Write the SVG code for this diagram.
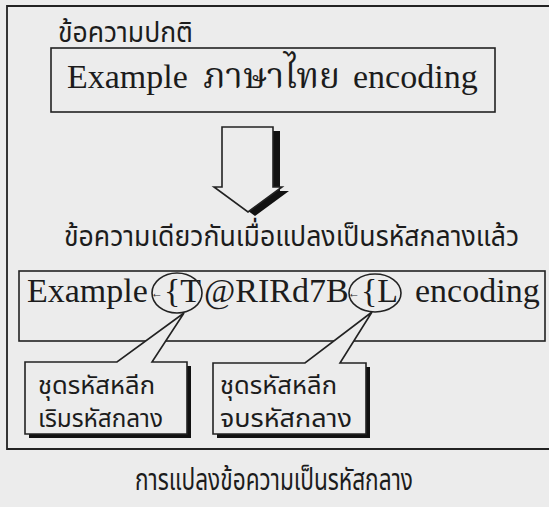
<svg xmlns="http://www.w3.org/2000/svg" width="549" height="507" viewBox="0 0 549 507">
<style>
.bg{fill:#ececec}
.frame{fill:none;stroke:#222;stroke-width:1.8}
.box{fill:none;stroke:#222;stroke-width:1.6}
.call{fill:#ececec;stroke:#222;stroke-width:1.6;stroke-linejoin:miter}
.shadow{fill:none;stroke:#111;stroke-width:4}
.th{font-family:"Noto Sans Thai","Noto Sans Thai Looped","Loma","Garuda","Noto Sans",sans-serif;fill:#1c1c1c}
.lat{font-family:"Liberation Serif","Noto Serif Thai","Noto Sans Thai",serif;font-size:34px;fill:#1c1c1c}
.sm{font-size:12px}
</style>
<rect class="bg" width="549" height="507"/>
<g id="frame"><path class="frame" d="M560,6 H7 V449 H560"/></g>
<g id="label-normal"><text class="th" x="58" y="42" font-size="28" textLength="135" lengthAdjust="spacingAndGlyphs">ข้อความปกติ</text></g>
<g id="box-original">
<rect class="box" x="51" y="48" width="444" height="64"/>
<text class="lat" x="67" y="88">Example <tspan x="203" font-size="35">ภาษาไทย</tspan><tspan x="344.5"> encoding</tspan></text>
</g>
<g id="connectors">
<g id="arrow">
<polygon points="229,131 280,131 280,191 289,191 255,216 221,191 229,191" fill="#111"/>
<polygon points="222,127 273,127 273,187 282,187 248,212 214,187 222,187" fill="#ececec" stroke="#222" stroke-width="1.6"/>
</g>
</g>
<g id="label-encoded"><text class="th" x="64" y="246" font-size="28" textLength="455" lengthAdjust="spacingAndGlyphs">ข้อความเดียวกันเมื่อแปลงเป็นรหัสกลางแล้ว</text></g>
<g id="box-encoded">
<rect class="box" x="19" y="271" width="526" height="70"/>
<text class="lat" x="27" y="302">Example<tspan class="sm" x="151" y="297">←</tspan><tspan x="164" y="302">{T</tspan><tspan x="204">@RIRd7B</tspan><tspan class="sm" x="348" y="297">←</tspan><tspan x="361" y="302">{L</tspan><tspan x="406.5"> encoding</tspan></text>
<ellipse class="box" cx="177" cy="293" rx="25" ry="20"/>
<ellipse class="box" cx="375" cy="293" rx="26" ry="19"/>
</g>
<g id="callout-start">
<path class="shadow" d="M189,366 V436 H29"/>
<path class="call" d="M25,362 H117 L184,313 L152,362 H187 V434 H25 Z"/>
<text class="th" x="38" y="394" font-size="24" textLength="117" lengthAdjust="spacingAndGlyphs">ชุดรหัสหลีก</text>
<text class="th" x="38" y="427" font-size="24" textLength="125" lengthAdjust="spacingAndGlyphs">เริมรหัสกลาง</text>
</g>
<g id="callout-end">
<path class="shadow" d="M368,367 V436 H217"/>
<path class="call" d="M213,363 H305 L372,312 L340,363 H366 V434 H213 Z"/>
<text class="th" x="220" y="394" font-size="24" textLength="117" lengthAdjust="spacingAndGlyphs">ชุดรหัสหลีก</text>
<text class="th" x="220" y="427" font-size="24" textLength="132" lengthAdjust="spacingAndGlyphs">จบรหัสกลาง</text>
</g>
<g id="caption"><text class="th" x="135" y="490" font-size="30" textLength="278" lengthAdjust="spacingAndGlyphs">การแปลงข้อความเป็นรหัสกลาง</text></g>
</svg>
